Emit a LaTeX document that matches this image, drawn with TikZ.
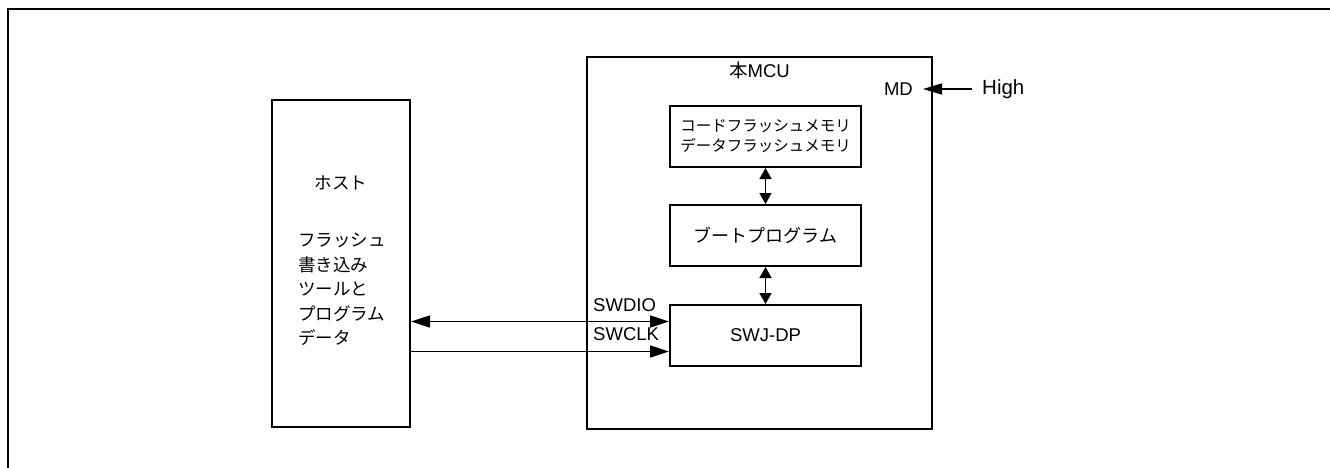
\documentclass[tikz,border=0pt]{standalone}
\usepackage{fontspec}
\setmainfont{Liberation Sans}
\newfontfamily\jpfont{Noto Sans CJK JP}
\usetikzlibrary{arrows.meta,positioning}

\begin{document}
\begin{tikzpicture}[
    x=1pt, y=-1pt,
    box/.style={draw, line width=2pt, inner sep=0pt, align=center},
    inbox/.style={box, minimum width=191pt, minimum height=61pt},
    lbl/.style={font=\fontsize{18.5}{24}\selectfont, inner sep=0pt},
    jlbl/.style={font=\jpfont\fontsize{17.5}{24.5}\selectfont, inner sep=0pt},
    arr/.style={line width=1.7pt, -{Triangle[length=19pt,width=12pt]}},
    darr/.style={line width=1.7pt, {Triangle[length=19pt,width=12pt]}-{Triangle[length=19pt,width=12pt]}},
    varr/.style={line width=1.7pt, {Triangle[length=11pt,width=12pt]}-{Triangle[length=11pt,width=12pt]}},
    harr/.style={line width=1.7pt, -{Triangle[length=19pt,width=11pt]}}
  ]
  \useasboundingbox (0,0) rectangle (1330,468);
  \draw[line width=1.6pt] (8,468) -- (8,9) -- (1330,9);

  \node (host)  [box, minimum width=138pt, minimum height=327pt] at (341,263.5) {};
  \node (mcu)   [box, minimum width=345pt, minimum height=372pt] at (759.5,243) {};
  \node (flash) [inbox, font=\jpfont\fontsize{15.5}{20}\selectfont] at (765.5,136.5)
                {コードフラッシュメモリ\\データフラッシュメモリ};
  \node (boot)  [inbox, font=\jpfont\fontsize{18}{24}\selectfont, below=36pt of flash] {ブートプログラム};
  \node (swj)   [inbox, font=\fontsize{18.5}{24}\selectfont, below=37pt of boot] {SWJ-DP};

  \node (hosttitle) [jlbl] at (341,183) {ホスト};
  \node (hostbody)  [jlbl, align=left, anchor=north west] at (298,233)
                    {フラッシュ\\書き込み\\ツールと\\プログラム\\データ};
  \node (mcutitle)  [lbl] at (759.5,70) {{\jpfont 本}MCU};
  \node (md)        [lbl, anchor=east] at (913,89) {MD};
  \node (high)      [lbl, font=\fontsize{20.5}{24}\selectfont, anchor=west] at (982,89) {High};
  \node (sdiolbl)   [lbl, anchor=base west] at (593,311) {SWDIO};
  \node (sclklbl)   [lbl, anchor=base west] at (593,340) {SWCLK};

  \draw[harr] ([xshift=-10pt]high.west) -- ([xshift=-10pt]high.west -| mcu.east);
  \draw[varr] (flash) -- (boot);
  \draw[varr] (boot)  -- (swj);
  \draw[darr] ([yshift=14pt]swj.west -| host.east)  -- ([yshift=14pt]swj.west);
  \draw[arr]  ([yshift=-16pt]swj.west -| host.east) -- ([yshift=-16pt]swj.west);
\end{tikzpicture}
\end{document}
